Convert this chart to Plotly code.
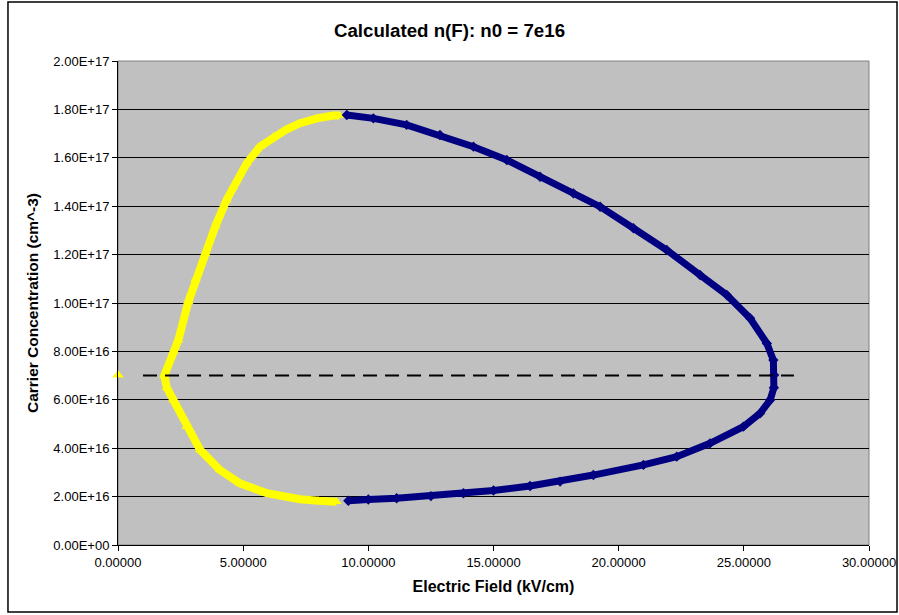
import plotly.graph_objects as go

# Data (field in kV/cm, concentration in cm^-3)
start_x = [0.0]
start_y = [7.02e16]

yellow_x = [8.85, 8.6, 7.94, 7.27, 6.74, 6.21, 5.67, 5.14, 4.6, 4.34, 3.9, 3.48, 3.1, 2.81, 2.41, 2.21, 1.85,
            1.95, 2.21, 2.74, 3.28, 4.07, 4.87, 5.94, 6.6, 7.27, 8.0, 8.73]
yellow_y = [1.775e17, 1.775e17, 1.763e17, 1.743e17, 1.718e17, 1.687e17, 1.646e17, 1.577e17, 1.48e17,
            1.426e17, 1.32e17, 1.205e17, 1.10e17, 1.005e17, 8.47e16, 7.99e16, 7.0e16,
            6.5e16, 5.99e16, 4.89e16, 3.93e16, 3.10e16, 2.55e16, 2.14e16, 1.98e16, 1.89e16, 1.83e16, 1.79e16]

blue_x = [9.14, 10.2, 11.53, 12.86, 14.2, 15.53, 16.86, 18.19, 19.26, 20.59, 21.92, 23.25, 24.32, 25.25, 25.92,
          26.18, 26.21, 26.2, 26.05, 25.65, 24.98, 23.65, 22.32, 20.99, 18.99, 17.66, 16.46, 15.0, 13.8, 12.5, 11.13,
          10.0, 9.2]
blue_y = [1.777e17, 1.763e17, 1.736e17, 1.694e17, 1.646e17, 1.591e17, 1.522e17, 1.453e17, 1.398e17, 1.309e17,
          1.219e17, 1.116e17, 1.033e17, 9.37e16, 8.33e16, 7.64e16, 7.02e16, 6.5e16, 5.99e16, 5.44e16, 4.89e16,
          4.2e16, 3.65e16, 3.31e16, 2.89e16, 2.62e16, 2.44e16, 2.25e16, 2.14e16, 2.02e16, 1.93e16, 1.88e16, 1.83e16]

n0_x = [1.0, 27.0]
n0_y = [7.0e16, 7.0e16]

y_tickvals = [0, 2e16, 4e16, 6e16, 8e16, 1e17, 1.2e17, 1.4e17, 1.6e17, 1.8e17, 2e17]
y_ticktext = ["0.00E+00", "2.00E+16", "4.00E+16", "6.00E+16", "8.00E+16", "1.00E+17",
              "1.20E+17", "1.40E+17", "1.60E+17", "1.80E+17", "2.00E+17"]
x_tickvals = [0, 5, 10, 15, 20, 25, 30]
x_ticktext = ["0.00000", "5.00000", "10.00000", "15.00000", "20.00000", "25.00000", "30.00000"]

FONT = "Liberation Sans, Arial, sans-serif"

fig = go.Figure()
fig.add_trace(go.Scatter(x=yellow_x, y=yellow_y, mode="lines+markers",
                         line=dict(color="#FFFF00", width=8),
                         marker=dict(symbol="triangle-up", size=9, color="#FFFF00"),
                         showlegend=False))
fig.add_trace(go.Scatter(x=blue_x, y=blue_y, mode="lines+markers",
                         line=dict(color="#000080", width=7),
                         marker=dict(symbol="diamond", size=8, color="#000080"),
                         showlegend=False))
fig.add_trace(go.Scatter(x=n0_x, y=n0_y, mode="lines",
                         line=dict(color="black", width=2, dash="14px,8px"),
                         showlegend=False))
fig.add_trace(go.Scatter(x=start_x, y=start_y, mode="markers",
                         marker=dict(symbol="triangle-up", size=10, color="#FFFF00"),
                         showlegend=False, cliponaxis=False))

fig.update_layout(
    width=899, height=615,
    margin=dict(l=118, r=30, t=61, b=70, autoexpand=False),
    paper_bgcolor="white",
    plot_bgcolor="#C0C0C0",
    font=dict(family=FONT, size=13, color="black"),
    title=dict(text="<b>Calculated n(F): n0 = 7e16</b>", x=0.5, xanchor="center",
               y=0.951, yanchor="middle", font=dict(family=FONT, size=18.7, color="black")),
    xaxis=dict(range=[0, 30], tickvals=x_tickvals, ticktext=x_ticktext, automargin=False,
               showgrid=False, zeroline=False, showline=True, linecolor="black", linewidth=1,
               ticks="outside", ticklen=5, tickcolor="black", mirror=False,
               title=dict(text="<b>Electric Field (kV/cm)</b>", font=dict(family=FONT, size=16), standoff=12),
               tickfont=dict(family=FONT, size=13)),
    yaxis=dict(range=[0, 2e17], tickvals=y_tickvals, ticktext=y_ticktext, automargin=False,
               showgrid=True, gridcolor="black", gridwidth=1, zeroline=False,
               showline=True, linecolor="black", linewidth=1,
               ticks="outside", ticklen=5, tickcolor="black",
               title=dict(text="<b>Carrier Concentration (cm^-3)</b>", font=dict(family=FONT, size=15.5), standoff=10),
               tickfont=dict(family=FONT, size=13)),
)

# plot-area border (gray)
fig.add_shape(type="rect", xref="paper", yref="paper", x0=0, x1=1, y0=0, y1=1,
              line=dict(color="#808080", width=1), layer="below")
# outer chart border
fig.add_shape(type="rect", xref="paper", yref="paper", x0=-0.1465, x1=1.0373, y0=-0.1384, y1=1.1219,
              line=dict(color="black", width=1.5), layer="above")

fig.write_html("out.html", config={"displayModeBar": False},
               post_script="document.body.style.margin='0';document.body.style.overflow='hidden';")
